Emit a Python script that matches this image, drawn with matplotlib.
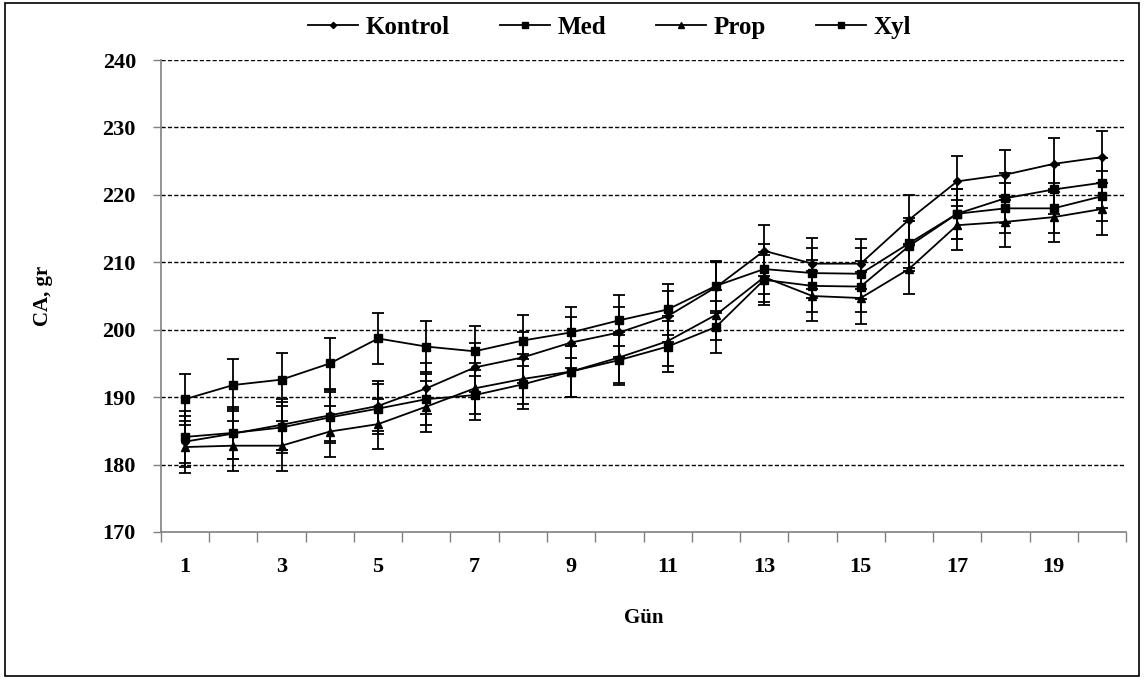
import numpy as np
import matplotlib
matplotlib.use('Agg')
import matplotlib.pyplot as plt
from matplotlib.patches import Rectangle
from matplotlib.lines import Line2D

plt.rcParams['font.family'] = ['Liberation Serif', 'DejaVu Serif']
plt.rcParams['font.weight'] = 'bold'

days = list(range(1, 21))

kontrol = [183.4, 184.6, 185.9, 187.3, 188.7, 191.3, 194.4, 195.9, 198.1, 199.6,
           202.0, 206.3, 211.7, 209.8, 209.8, 216.3, 222.0, 223.0, 224.6, 225.6]
med = [189.7, 191.8, 192.6, 195.0, 198.7, 197.5, 196.8, 198.4, 199.6, 201.4,
       203.0, 206.5, 209.0, 208.4, 208.3, 212.8, 217.2, 219.5, 220.8, 221.8]
prop = [182.6, 182.8, 182.8, 184.9, 186.0, 188.6, 191.3, 192.7, 193.8, 195.9,
        198.3, 202.2, 207.8, 205.0, 204.7, 209.0, 215.5, 216.0, 216.7, 217.9]
xyl = [184.1, 184.7, 185.5, 187.0, 188.3, 189.7, 190.3, 191.9, 193.8, 195.5,
       197.5, 200.4, 207.4, 206.5, 206.4, 212.4, 217.2, 218.0, 218.0, 219.8]

kontrol_err = [3.8, 3.7, 3.8, 3.8, 3.7, 3.8, 3.7, 3.8, 3.8, 3.7,
               3.8, 3.8, 3.8, 3.8, 3.7, 3.7, 3.7, 3.7, 3.8, 3.8]
med_err = [3.8, 3.8, 3.9, 3.8, 3.8, 3.8, 3.7, 3.8, 3.8, 3.8,
           3.8, 3.7, 3.7, 3.7, 3.8, 3.7, 3.7, 3.7, 3.7, 3.7]
prop_err = [3.8, 3.7, 3.7, 3.8, 3.7, 3.8, 3.8, 3.7, 3.8, 3.8,
            3.7, 3.7, 3.7, 3.7, 3.8, 3.7, 3.7, 3.7, 3.7, 3.8]
xyl_err = [3.8, 3.8, 3.8, 3.8, 3.7, 3.8, 3.7, 3.7, 3.8, 3.7,
           3.8, 3.8, 3.7, 3.8, 3.8, 3.7, 3.7, 3.7, 3.7, 3.7]

series = [
    ('Kontrol', kontrol, kontrol_err, 'D', 4.5),
    ('Med', med, med_err, 's', 5.5),
    ('Prop', prop, prop_err, '^', 5.5),
    ('Xyl', xyl, xyl_err, 's', 5.5),
]

fig = plt.figure(figsize=(11.44, 6.79), dpi=100)
ax = fig.add_axes([0.1407, 0.2165, 0.8436, 0.6951])

handles = []
for name, vals, err, mk, ms in series:
    ax.errorbar(days, vals, yerr=err, color='black', lw=1.3, marker=mk, ms=ms,
                ecolor='black', elinewidth=1.3, capsize=4, capthick=1.3)
    # legend shows only the line with a small marker, no error bar
    handles.append(Line2D([], [], color='black', lw=1.3, marker=mk, ms=ms * 0.7, label=name))

ax.set_xlim(0.5, 20.5)
ax.set_ylim(170, 240)
ax.set_yticks(np.arange(170, 241, 10))

# category boundaries carry the tick marks, odd days carry the labels
ax.set_xticks(np.arange(0.5, 20.6, 1))
ax.set_xticklabels([])
ax.set_xticks(days[::2], minor=True)
ax.set_xticklabels([str(d) for d in days[::2]], minor=True, fontsize=16, fontweight='bold')
ax.tick_params(axis='x', which='major', length=7, color='#808080', width=1)
ax.tick_params(axis='x', which='minor', length=0, pad=18)
ax.tick_params(axis='y', length=6, color='#808080', width=1, pad=12, labelsize=16)
for lab in ax.get_yticklabels():
    lab.set_fontweight('bold')

for v in range(180, 241, 10):
    ax.axhline(v, color='black', lw=1.0, ls=(0, (3, 1.6)), zorder=0)

for s in ['top', 'right']:
    ax.spines[s].set_visible(False)
for s in ['left', 'bottom']:
    ax.spines[s].set_color('#808080')
    ax.spines[s].set_linewidth(1.2)

ax.set_xlabel('Gün', fontsize=15, fontweight='bold', labelpad=22)
ax.set_ylabel('CA, gr', fontsize=15, fontweight='bold', labelpad=36)

fig.legend(handles=handles, loc='center', bbox_to_anchor=(0.533, 0.96), ncol=4,
           frameon=False, prop={'size': 18, 'weight': 'bold'}, handlelength=2.0,
           handletextpad=0.3, columnspacing=2.0)

fig.patches.append(Rectangle((0.004, 0.004), 0.992, 0.992, transform=fig.transFigure,
                             fill=False, edgecolor='black', lw=1.2))

fig.savefig('out.png', dpi=100)
